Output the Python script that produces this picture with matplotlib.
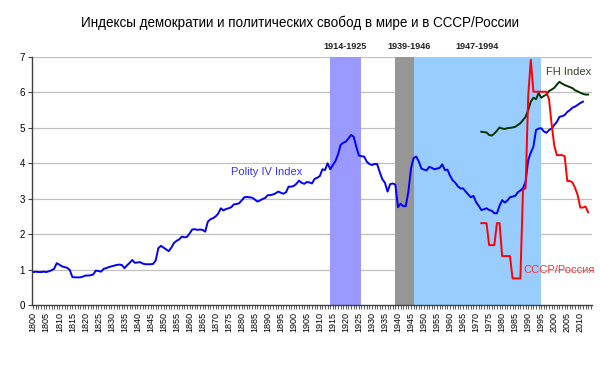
import matplotlib
matplotlib.use("Agg")
import matplotlib.pyplot as plt
import numpy as np

plt.rcParams['font.family'] = ['Liberation Sans', 'DejaVu Sans']

title = "Индексы демократии и политических свобод в мире и в СССР/России"

polity_start = 1800
polity = [
    0.93, 0.94, 0.93, 0.93, 0.94, 0.93, 0.95, 0.98, 1.02, 1.18,  # 1800-1809
    1.14, 1.09, 1.07, 1.05, 0.99, 0.79, 0.78, 0.78, 0.78, 0.80,  # 1810-1819
    0.83, 0.83, 0.84, 0.86, 0.97, 0.96, 0.94, 1.02, 1.04, 1.07,  # 1820-1829
    1.09, 1.11, 1.13, 1.14, 1.13, 1.04, 1.12, 1.19, 1.27, 1.19,  # 1830-1839
    1.20, 1.21, 1.17, 1.15, 1.15, 1.15, 1.16, 1.26, 1.60, 1.67,  # 1840-1849
    1.62, 1.57, 1.52, 1.62, 1.75, 1.81, 1.85, 1.93, 1.91, 1.92,  # 1850-1859
    2.02, 2.13, 2.14, 2.12, 2.13, 2.12, 2.07, 2.35, 2.42, 2.45,  # 1860-1869
    2.50, 2.58, 2.73, 2.67, 2.71, 2.73, 2.76, 2.84, 2.85, 2.87,  # 1870-1879
    2.95, 3.04, 3.05, 3.04, 3.03, 2.98, 2.92, 2.95, 2.99, 3.02,  # 1880-1889
    3.10, 3.10, 3.12, 3.15, 3.20, 3.17, 3.14, 3.18, 3.34, 3.34,  # 1890-1899
    3.36, 3.42, 3.51, 3.45, 3.42, 3.47, 3.46, 3.43, 3.56, 3.59,  # 1900-1909
    3.64, 3.83, 3.81, 4.00, 3.83, 3.95, 4.06, 4.25, 4.52, 4.58,  # 1910-1919
    4.61, 4.70, 4.80, 4.75, 4.47, 4.22, 4.20, 4.19, 4.05, 3.98,  # 1920-1929
    3.95, 3.98, 3.98, 3.75, 3.55, 3.45, 3.20, 3.41, 3.43, 3.40,  # 1930-1939
    2.76, 2.86, 2.79, 2.79, 3.20, 3.85, 4.15, 4.19, 4.05, 3.85,  # 1940-1949
    3.82, 3.80, 3.90, 3.87, 3.83, 3.85, 3.87, 3.97, 3.81, 3.82,  # 1950-1959
    3.65, 3.52, 3.45, 3.35, 3.29, 3.29, 3.20, 3.12, 3.04, 3.08,  # 1960-1969
    2.90, 2.80, 2.68, 2.70, 2.73, 2.68, 2.66, 2.59, 2.59, 2.80,  # 1970-1979
    2.96, 2.89, 2.95, 3.04, 3.06, 3.08, 3.18, 3.23, 3.30, 3.48,  # 1980-1989
    4.09, 4.30, 4.47, 4.94, 4.98, 4.99, 4.90, 4.86, 4.94, 4.98,  # 1990-1999
    5.08, 5.17, 5.31, 5.33, 5.36, 5.45, 5.50, 5.57, 5.60, 5.65,  # 2000-2009
    5.70, 5.74,                                                  # 2010-2011
]

fh_start = 1972
fh = [
    4.89, 4.88, 4.87, 4.80, 4.78, 4.84, 4.92, 5.01,              # 1972-1979
    4.98, 4.97, 4.99, 5.00, 5.01, 5.03, 5.08, 5.13, 5.22, 5.31,  # 1980-1989
    5.50, 5.74, 5.85, 5.81, 5.98, 5.85, 5.90, 5.94, 6.04, 6.08,  # 1990-1999
    6.13, 6.22, 6.30, 6.25, 6.21, 6.18, 6.15, 6.12, 6.06, 6.03,  # 2000-2009
    5.99, 5.96, 5.94, 5.94,                                      # 2010-2013
]

russia_start = 1972
russia = [
    2.31, 2.31, 2.31, 1.69, 1.69, 1.69, 2.31, 2.31,              # 1972-1979
    1.38, 1.38, 1.38, 1.38, 0.75, 0.75, 0.75, 0.75, 3.25, 3.30,  # 1980-1989
    5.90, 6.92, 6.02, 6.02, 6.02, 6.02, 6.02, 6.02, 5.80, 5.10,  # 1990-1999
    4.50, 4.23, 4.23, 4.23, 4.20, 3.50, 3.50, 3.46, 3.30, 3.10,  # 2000-2009
    2.75, 2.75, 2.78, 2.62,                                      # 2010-2013
]

bands = [(1914, 1926, '#9999FF', '1914-1925'),
         (1939, 1946, '#969696', '1939-1946'),
         (1946, 1995, '#99CCFF', '1947-1994')]
band_label_x = [1919.7, 1944.2, 1970.2]

fig = plt.figure(figsize=(6, 3.75), dpi=100)
ax = fig.add_axes([0.0533, 0.1867, 0.9334, 0.6613])

for (x0, x1, c, lab), lx in zip(bands, band_label_x):
    ax.axvspan(x0, x1, color=c, lw=0, zorder=1)
    ax.text(lx, 7.17, lab, ha='center', va='bottom', fontsize=6.5, fontweight='bold',
            family=['Liberation Sans Narrow', 'Liberation Sans'], color='#222222')

for v in range(1, 8):
    ax.axhline(v, color='#C0C0C0', lw=0.9, zorder=0.5)

yp = np.arange(polity_start, polity_start + len(polity))
yf = np.arange(fh_start, fh_start + len(fh))
yr = np.arange(russia_start, russia_start + len(russia))
ax.plot(yp, polity, color='#0000FF', lw=1.4, zorder=3)
ax.plot(yf, fh, color='#003300', lw=1.4, zorder=3)
ax.plot(yr, russia, color='#FF0000', lw=1.4, zorder=4)

ax.text(1875.9, 3.76, 'Polity IV Index', color='#3333FF', fontsize=8, va='center', ha='left')
ax.text(1996.8, 6.59, 'FH Index', color='#334433', fontsize=8, va='center', ha='left')
ax.text(1988.0, 1.0, 'СССР/Россия', color='#FF3333', fontsize=8, va='center', ha='left')

ax.set_xlim(1799.5, 2014.5)
ax.set_ylim(0, 7)
ax.set_xticks(np.arange(1800, 2011, 5))
ax.set_xticklabels([str(y) for y in range(1800, 2011, 5)], rotation=90, fontsize=6.5)
ax.set_xticks(np.arange(1800, 2015, 1), minor=True)
ax.set_yticks(range(0, 8))
ax.tick_params(axis='y', labelsize=7, length=3, width=0.8, color='#404040', pad=2)
ax.tick_params(axis='x', which='both', length=3, width=0.6, color='#404040', pad=2)
for s in ['top', 'right']:
    ax.spines[s].set_visible(False)
for s in ['left', 'bottom']:
    ax.spines[s].set_color('#404040')
    ax.spines[s].set_linewidth(1.0)
    ax.spines[s].set_zorder(5)

fig.text(0.5, 0.94, title, ha='center', va='center', fontsize=9.75)

fig.savefig('out.png', dpi=100, facecolor='white')
